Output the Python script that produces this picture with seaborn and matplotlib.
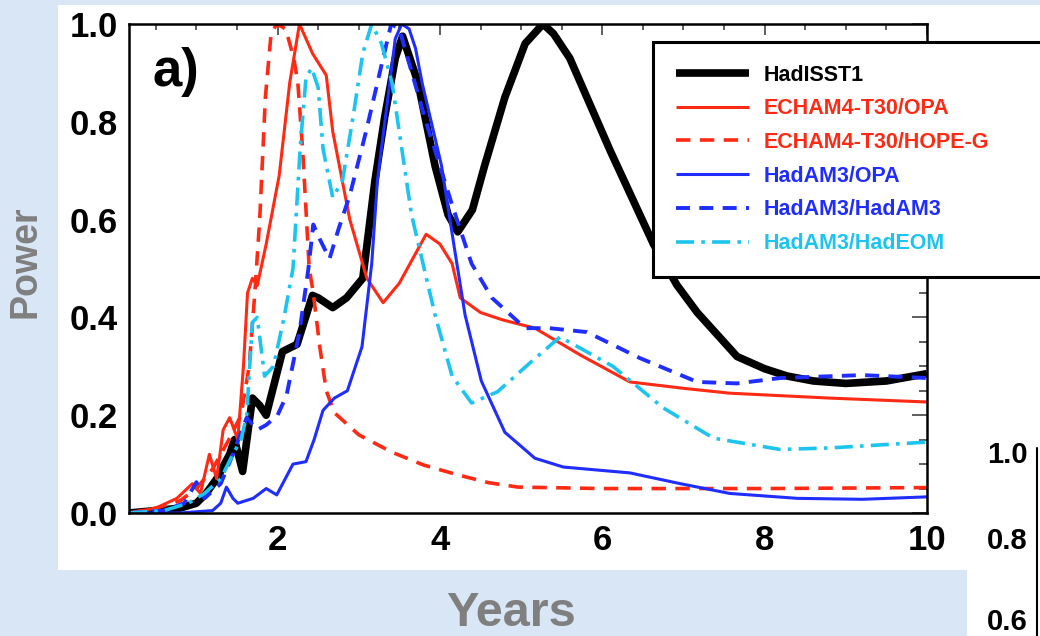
import numpy as np
import pandas as pd
import seaborn as sns
import matplotlib.pyplot as plt
from matplotlib.patches import Rectangle
from matplotlib.lines import Line2D
from matplotlib.ticker import MultipleLocator

# ---------------- data ----------------
had_x = [0.17, 0.5, 0.8, 1.0, 1.12, 1.25, 1.41, 1.47, 1.57, 1.69, 1.78, 1.86, 2.06, 2.24, 2.43, 2.5, 2.68,
         2.85, 3.05, 3.2, 3.32, 3.45, 3.54, 3.73, 3.94, 4.1, 4.22, 4.4, 4.55, 4.8, 5.05, 5.27, 5.4, 5.6,
         6.1, 6.63, 6.92, 7.17, 7.66, 8.0, 8.28, 8.6, 9.0, 9.5, 10.0]
had_y = [0.0, 0.005, 0.01, 0.02, 0.04, 0.07, 0.12, 0.15, 0.085, 0.235, 0.22, 0.20, 0.33, 0.345, 0.445, 0.44,
         0.42, 0.44, 0.48, 0.68, 0.81, 0.93, 0.975, 0.88, 0.71, 0.61, 0.575, 0.62, 0.71, 0.85, 0.96, 1.0, 0.98,
         0.93, 0.74, 0.55, 0.466, 0.41, 0.32, 0.295, 0.28, 0.27, 0.265, 0.27, 0.285]

eopa_x = [0.17, 0.5, 0.76, 0.95, 1.05, 1.16, 1.25, 1.33, 1.41, 1.51, 1.58, 1.63, 1.69, 1.75, 1.86, 2.02,
          2.15, 2.27, 2.43, 2.6, 2.68, 2.89, 3.1, 3.3, 3.5, 3.83, 4.0, 4.15, 4.25, 4.5, 4.77, 5.17, 5.73,
          6.34, 7.0, 7.57, 8.8, 10.0]
eopa_y = [0.0, 0.01, 0.03, 0.06, 0.04, 0.12, 0.07, 0.17, 0.195, 0.15, 0.3, 0.45, 0.48, 0.465, 0.55, 0.69,
          0.88, 1.0, 0.94, 0.895, 0.78, 0.6, 0.48, 0.43, 0.47, 0.57, 0.55, 0.51, 0.44, 0.41, 0.395, 0.378,
          0.323, 0.268, 0.255, 0.245, 0.235, 0.227]

ehope_x = [0.17, 0.5, 0.8, 1.0, 1.2, 1.4, 1.55, 1.65, 1.72, 1.78, 1.85, 1.92, 1.99, 2.1, 2.2, 2.25, 2.31,
           2.39, 2.44, 2.52, 2.6, 2.7, 3.0, 3.4, 3.8, 4.22, 4.6, 4.96, 6.0, 8.0, 10.0]
ehope_y = [0.0, 0.01, 0.025, 0.05, 0.09, 0.15, 0.2, 0.3, 0.45, 0.6, 0.85, 0.98, 1.0, 0.99, 0.93, 0.88, 0.74,
           0.50, 0.45, 0.34, 0.25, 0.205, 0.16, 0.125, 0.098, 0.078, 0.062, 0.053, 0.05, 0.05, 0.052]

hopa_x = [0.17, 0.8, 1.2, 1.3, 1.37, 1.45, 1.51, 1.7, 1.86, 1.99, 2.19, 2.35, 2.45, 2.56, 2.7, 2.86, 3.04,
          3.16, 3.23, 3.36, 3.45, 3.53, 3.62, 3.7, 3.78, 4.02, 4.18, 4.31, 4.51, 4.8, 5.17, 5.52, 6.34, 6.96,
          7.57, 8.4, 9.2, 10.0]
hopa_y = [0.0, 0.0, 0.005, 0.02, 0.053, 0.03, 0.02, 0.03, 0.05, 0.037, 0.1, 0.105, 0.15, 0.21, 0.235, 0.25,
          0.34, 0.51, 0.68, 0.85, 0.97, 1.0, 0.99, 0.95, 0.88, 0.71, 0.54, 0.405, 0.27, 0.165, 0.112, 0.094,
          0.082, 0.06, 0.04, 0.03, 0.028, 0.033]

hham_x = [0.17, 0.6, 0.85, 1.0, 1.1, 1.3, 1.45, 1.62, 1.75, 1.86, 2.0, 2.11, 2.27, 2.38, 2.44, 2.52, 2.64,
          2.75, 2.89, 3.09, 3.3, 3.4, 3.5, 3.81, 4.15, 4.39, 4.64, 5.05, 5.35, 5.81, 6.46, 7.17, 7.66, 8.19,
          9.2, 10.0]
hham_y = [0.0, 0.005, 0.02, 0.063, 0.03, 0.06, 0.12, 0.195, 0.17, 0.18, 0.2, 0.24, 0.37, 0.5, 0.59, 0.56,
          0.52, 0.58, 0.65, 0.78, 0.93, 1.0, 0.99, 0.81, 0.63, 0.51, 0.44, 0.378, 0.378, 0.37, 0.317, 0.268,
          0.265, 0.276, 0.282, 0.276]

heom_x = [0.17, 0.6, 0.9, 1.1, 1.3, 1.45, 1.55, 1.62, 1.69, 1.75, 1.84, 1.95, 2.08, 2.19, 2.28, 2.35, 2.42,
          2.5, 2.56, 2.68, 2.8, 2.93, 3.05, 3.16, 3.28, 3.41, 3.53, 3.65, 3.94, 4.15, 4.39, 4.71, 5.13, 5.48,
          6.13, 6.75, 7.37, 8.19, 8.8, 10.0]
heom_y = [0.0, 0.005, 0.02, 0.04, 0.07, 0.12, 0.15, 0.2, 0.39, 0.40, 0.28, 0.30, 0.4, 0.5, 0.75, 0.89, 0.91,
          0.87, 0.745, 0.645, 0.68, 0.81, 0.94, 1.0, 0.96, 0.88, 0.745, 0.61, 0.405, 0.28, 0.225, 0.248, 0.31,
          0.36, 0.30, 0.215, 0.153, 0.13, 0.133, 0.145]

labels = ["HadISST1", "ECHAM4-T30/OPA", "ECHAM4-T30/HOPE-G", "HadAM3/OPA", "HadAM3/HadAM3", "HadAM3/HadEOM"]
xticks = [2, 4, 6, 8, 10]
yticks = [0.0, 0.2, 0.4, 0.6, 0.8, 1.0]
ytick_labels = ["0.0", "0.2", "0.4", "0.6", "0.8", "1.0"]

# ---------------- styling ----------------
BLACK, RED, BLUE, CYAN = "#000000", "#ff2a14", "#1f2dff", "#1ec4f0"
styles = [
    (had_x, had_y, BLACK, 5.5, "-"),
    (eopa_x, eopa_y, RED, 2.2, "-"),
    (ehope_x, ehope_y, RED, 2.6, (0, (4, 2.6))),
    (hopa_x, hopa_y, BLUE, 2.2, "-"),
    (hham_x, hham_y, BLUE, 2.8, (0, (3.6, 2.4))),
    (heom_x, heom_y, CYAN, 2.6, (0, (5, 2, 1, 2))),
]

sns.set_theme(style="white")
plt.rcParams["font.family"] = ["Liberation Sans", "DejaVu Sans"]

W, H = 1040, 636
fig = plt.figure(figsize=(W / 100, H / 100), dpi=100, facecolor="#d8e6f5")

def fx(px):
    return px / W

def fy(py):
    return 1 - py / H

# white panels of the slide
fig.add_artist(Rectangle((fx(58), fy(570)), 1 - fx(58), fy(5) - fy(570), transform=fig.transFigure,
                         facecolor="white", edgecolor="none", zorder=0))
fig.add_artist(Rectangle((fx(967), 0), 1 - fx(967), fy(570), transform=fig.transFigure,
                         facecolor="white", edgecolor="none", zorder=0))

ax = fig.add_axes([fx(129), fy(513), fx(927) - fx(129), fy(24) - fy(513)])
ax.set_facecolor("white")

for (xs, ys, col, lw, ls), lab in zip(styles, labels):
    df = pd.DataFrame({"x": xs, "y": ys})
    sns.lineplot(data=df, x="x", y="y", ax=ax, color=col, linewidth=lw, linestyle=ls,
                 label=lab, estimator=None, legend=False, solid_capstyle="butt")

ax.set_xlim(0.17, 10)
ax.set_ylim(0, 1.0)
ax.set_xticks(xticks)
ax.set_xticklabels([str(t) for t in xticks])
ax.set_yticks(yticks)
ax.set_yticklabels(ytick_labels)
ax.xaxis.set_minor_locator(MultipleLocator(0.5))
ax.yaxis.set_minor_locator(MultipleLocator(0.05))
ax.set_xlabel("")
ax.set_ylabel("")
for s in ax.spines.values():
    s.set_visible(True)
    s.set_color("black")
    s.set_linewidth(1.8)
ax.tick_params(which="both", direction="in", top=True, right=True, color="#333333", width=1.1)
ax.tick_params(axis="y", which="major", length=11, pad=8, labelsize=25)
ax.tick_params(axis="y", which="minor", length=6)
ax.tick_params(axis="x", which="major", length=8, pad=8, labelsize=25)
ax.tick_params(axis="x", which="minor", length=4)
for t in ax.get_xticklabels() + ax.get_yticklabels():
    t.set_fontweight("bold")
    t.set_color("black")

# legend (frame runs past the right edge of the slide, as in the reference)
handles = ax.get_lines()[:6]
leg_w = fx(1070) - fx(653)
leg = ax.legend(handles, labels, loc="upper left", mode="expand",
                bbox_to_anchor=(fx(653), fy(42) - 0.5, leg_w, 0.5),
                bbox_transform=fig.transFigure, borderaxespad=0, frameon=True, fancybox=False,
                prop={"family": "Liberation Sans", "weight": "bold", "size": 15.5},
                handlelength=3.4, handletextpad=0.7, labelspacing=0.59, borderpad=1.05)
leg.get_frame().set_edgecolor("black")
leg.get_frame().set_linewidth(2.2)
leg.get_frame().set_facecolor("white")
leg.get_frame().set_alpha(1)
for txt, (_, _, col, _, _) in zip(leg.get_texts(), styles):
    txt.set_color(col)

# panel tag
fig.text(fx(153), fy(47), "a)", ha="left", va="top", fontsize=38, fontweight="bold", color="black")

# slide axis titles
fig.text(fx(25), fy(262), "Power", rotation=90, ha="center", va="center", fontsize=27,
         fontweight="bold", color="#7f7f7f")
fig.text(fx(511), 0.0, "Years", ha="center", va="bottom", fontsize=35,
         fontweight="bold", color="#7f7f7f")

# partial neighbouring panel at bottom right
for lab, py in [("1.0", 455), ("0.8", 541), ("0.6", 622)]:
    fig.text(fx(1028), fy(py), lab, ha="right", va="center", fontsize=21, fontweight="bold", color="black")
fig.add_artist(Line2D([fx(1037), fx(1037)], [fy(448), 0], transform=fig.transFigure, color="black", lw=1.5))

fig.savefig("out.png", dpi=100, facecolor=fig.get_facecolor())
